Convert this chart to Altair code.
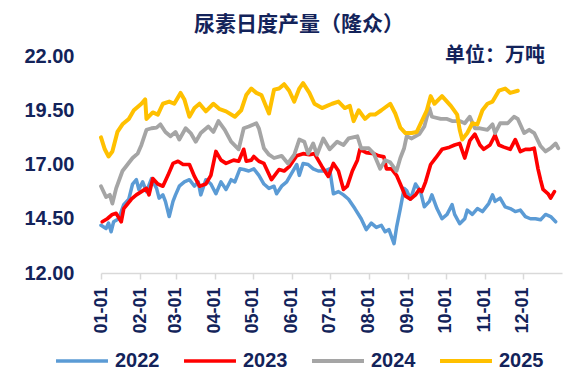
import altair as alt
import pandas as pd

title_text = "尿素日度产量（隆众）"
unit_label = "单位：万吨"
years = ["2022", "2023", "2024", "2025"]
colors = ["#5B9BD5", "#FF0000", "#A5A5A5", "#FFC000"]
widths = [3.5, 4, 3.5, 6]
y_ticks = [12.0, 14.5, 17.0, 19.5, 22.0]

# day of year (1 = Jan 1) and values
day_2022 = [1, 5, 7, 9, 11, 15, 19, 23, 26, 29, 31, 34, 37, 41, 45, 47, 50, 52, 55, 58, 60, 63, 67, 71, 75, 78, 80, 84, 88, 92, 96, 100, 104, 107, 111, 114, 118, 122, 126, 130, 134, 138, 140, 144, 148, 152, 156, 158, 161, 165, 169, 173, 178, 182, 185, 189, 193, 197, 202, 207, 211, 215, 219, 223, 226, 229, 233, 235, 238, 241, 243, 246, 250, 254, 257, 261, 263, 267, 271, 275, 279, 281, 285, 289, 291, 295, 299, 303, 308, 311, 313, 317, 321, 325, 329, 333, 337, 341, 345, 349, 353, 357, 361]
val_2022 = [14.2, 14.05, 14.3, 13.9, 14.36, 14.5, 15.15, 15.4, 16.1, 16.3, 15.85, 16.2, 15.75, 16.35, 15.9, 15.45, 15.6, 15.3, 14.6, 15.3, 15.6, 16.0, 16.2, 16.3, 16.0, 16.2, 15.6, 16.3, 16.1, 15.65, 16.2, 15.85, 16.3, 16.2, 16.8, 16.77, 16.7, 16.8, 16.5, 16.1, 15.9, 16.0, 15.65, 16.0, 16.2, 16.6, 17.0, 16.5, 17.05, 17.0, 16.8, 16.7, 16.7, 16.8, 15.65, 15.75, 15.6, 15.4, 14.97, 14.5, 14.0, 14.3, 14.1, 14.2, 13.9, 14.0, 13.35, 14.1, 14.97, 15.9, 15.8, 15.4, 16.1, 15.75, 15.05, 15.3, 15.6, 14.97, 14.5, 14.7, 15.15, 14.7, 14.27, 14.5, 14.9, 14.7, 14.97, 14.83, 15.2, 15.6, 15.3, 15.45, 15.05, 14.97, 14.83, 14.9, 14.6, 14.5, 14.5, 14.45, 14.7, 14.6, 14.36]

day_2023 = [2, 6, 10, 13, 17, 19, 25, 29, 33, 37, 39, 42, 46, 50, 54, 58, 62, 66, 71, 75, 79, 84, 88, 92, 96, 100, 106, 110, 114, 116, 120, 122, 126, 130, 136, 142, 146, 150, 156, 161, 166, 170, 176, 181, 185, 189, 193, 196, 200, 204, 206, 211, 217, 221, 225, 227, 231, 235, 238, 242, 246, 250, 253, 255, 258, 262, 266, 271, 277, 281, 285, 289, 293, 297, 301, 304, 309, 313, 316, 320, 325, 329, 333, 337, 341, 344, 347, 349, 351, 355, 357, 360]
val_2023 = [14.36, 14.5, 14.7, 14.75, 14.36, 14.97, 15.4, 15.6, 15.75, 15.9, 15.6, 16.35, 16.1, 16.0, 16.5, 17.05, 17.15, 17.0, 17.0, 16.45, 16.0, 16.1, 16.5, 17.6, 17.2, 17.05, 17.2, 17.15, 17.7, 17.15, 17.2, 17.37, 17.15, 17.05, 16.3, 16.77, 16.7, 16.9, 17.4, 17.5, 17.45, 17.5, 16.9, 16.45, 17.05, 16.7, 15.85, 16.0, 16.7, 17.2, 17.7, 17.55, 17.5, 17.4, 17.35, 16.8, 16.8, 16.5, 16.1, 15.55, 15.4, 15.6, 15.85, 15.75, 16.2, 17.0, 17.3, 17.7, 17.8, 17.9, 17.97, 17.3, 18.1, 18.4, 17.9, 17.7, 17.9, 18.35, 17.9, 17.8, 17.7, 18.15, 17.6, 17.7, 17.7, 17.75, 16.8, 16.3, 15.85, 15.65, 15.45, 15.75]

day_2024 = [1, 5, 8, 10, 13, 18, 22, 26, 30, 33, 37, 41, 45, 48, 52, 56, 60, 63, 68, 72, 76, 80, 86, 90, 94, 99, 104, 110, 114, 118, 124, 126, 130, 134, 138, 144, 149, 154, 158, 162, 165, 169, 172, 177, 182, 188, 193, 197, 204, 207, 213, 217, 222, 226, 230, 235, 238, 241, 243, 247, 253, 257, 261, 263, 270, 275, 279, 285, 289, 293, 297, 301, 307, 311, 313, 317, 323, 328, 331, 336, 340, 344, 349, 353, 357, 361, 363]
val_2024 = [16.0, 15.5, 15.6, 15.2, 15.9, 16.7, 17.0, 17.3, 17.5, 17.9, 18.6, 18.67, 18.7, 18.85, 18.5, 18.3, 18.5, 18.15, 18.67, 18.45, 18.05, 18.45, 18.75, 18.5, 19.0, 18.6, 18.05, 17.7, 18.67, 18.75, 18.9, 18.67, 17.75, 17.45, 17.3, 17.4, 17.05, 17.45, 18.15, 18.05, 17.5, 17.97, 17.45, 18.2, 17.7, 18.05, 17.9, 18.2, 18.3, 17.75, 17.75, 17.5, 16.8, 17.2, 17.1, 16.7, 17.3, 17.75, 18.3, 18.2, 18.4, 18.75, 19.6, 19.2, 19.1, 19.1, 19.0, 19.0, 18.9, 19.2, 18.67, 18.67, 18.6, 18.85, 18.45, 18.9, 18.9, 19.2, 19.1, 18.45, 18.6, 18.45, 17.85, 17.6, 17.75, 17.97, 17.75]

day_2025 = [1, 4, 7, 10, 14, 18, 23, 27, 33, 36, 37, 42, 46, 50, 55, 59, 64, 67, 71, 75, 79, 84, 90, 95, 100, 107, 112, 116, 120, 124, 128, 134, 138, 142, 146, 150, 154, 158, 161, 166, 170, 176, 180, 184, 189, 194, 198, 201, 205, 210, 214, 218, 223, 230, 234, 238, 242, 247, 251, 255, 259, 262, 265, 271, 278, 283, 285, 287, 291, 295, 299, 303, 307, 311, 313, 316, 321, 325, 331]
val_2025 = [18.25, 17.7, 17.37, 17.6, 18.5, 18.85, 19.1, 19.5, 19.8, 20.0, 19.1, 19.4, 19.3, 19.8, 19.9, 19.8, 20.3, 20.0, 19.2, 19.6, 19.8, 19.45, 19.8, 19.55, 19.45, 19.2, 19.5, 20.2, 20.5, 20.3, 20.2, 19.35, 20.45, 20.5, 20.7, 20.4, 19.9, 20.5, 20.75, 20.3, 19.8, 19.6, 19.7, 19.8, 19.9, 19.6, 19.7, 19.0, 19.5, 19.1, 19.3, 19.3, 19.5, 19.8, 19.35, 18.7, 18.45, 18.45, 18.5, 19.0, 19.5, 20.15, 19.8, 20.15, 19.7, 19.3, 18.6, 18.15, 18.45, 18.9, 18.85, 19.5, 19.8, 19.9, 20.1, 20.4, 20.5, 20.3, 20.4]

series = {
    "2022": (day_2022, val_2022),
    "2023": (day_2023, val_2023),
    "2024": (day_2024, val_2024),
    "2025": (day_2025, val_2025),
}

base = pd.Timestamp("2023-01-01")
frames = []
for yr, (days, vals) in series.items():
    frames.append(pd.DataFrame({
        "date": [base + pd.Timedelta(days=d - 1) for d in days],
        "value": vals,
        "year": yr,
        "order": years.index(yr),
    }))
df = pd.concat(frames, ignore_index=True)
df["date"] = df["date"].dt.strftime("%Y-%m-%d")

NAVY = "#13235A"
month_ticks = [alt.DateTime(year=2023, month=m, date=1) for m in range(1, 13)]

lines = alt.Chart(df).mark_line(strokeJoin="round", strokeCap="round").encode(
    x=alt.X("date:T",
            scale=alt.Scale(domain=[alt.DateTime(year=2023, month=1, date=1),
                                    alt.DateTime(year=2024, month=1, date=1)]),
            axis=alt.Axis(values=month_ticks, format="%m-%d", labelAngle=270,
                          title=None, grid=False, domainColor="#D9D9D9",
                          tickColor="#D9D9D9", tickSize=6, domainWidth=1.5,
                          tickWidth=1.5, labelPadding=8,
                          labelFont="Liberation Sans", labelFontSize=18,
                          labelFontWeight="bold", labelColor=NAVY)),
    y=alt.Y("value:Q", scale=alt.Scale(domain=[12, 22], nice=False, zero=False),
            axis=alt.Axis(values=y_ticks, format=".2f", title=None, grid=False,
                          domain=False, ticks=False, labelPadding=27,
                          labelFont="Liberation Sans", labelFontSize=20,
                          labelFontWeight="bold", labelColor=NAVY)),
    color=alt.Color("year:N", scale=alt.Scale(domain=years, range=colors),
                    legend=alt.Legend(title=None, orient="none", direction="horizontal",
                                      legendX=-47, legendY=277,
                                      symbolType="stroke", symbolSize=2700,
                                      symbolStrokeWidth=5, columnPadding=16,
                                      labelFont="Liberation Sans", labelFontSize=20,
                                      labelFontWeight="bold", labelColor=NAVY,
                                      labelOffset=5)),
    strokeWidth=alt.StrokeWidth("year:N", scale=alt.Scale(domain=years, range=widths),
                                legend=None),
    order=alt.Order("order:Q"),
    detail="year:N",
)

unit = alt.Chart(pd.DataFrame({"t": [unit_label]})).mark_text(
    align="right", baseline="middle", font="Noto Sans CJK SC", fontSize=20,
    fontWeight="bold", color=NAVY
).encode(text="t:N", x=alt.value(444), y=alt.value(0))

title = alt.Chart(pd.DataFrame({"t": [title_text]})).mark_text(
    align="center", baseline="middle", font="Noto Sans CJK SC", fontSize=21,
    fontWeight="bold", color=NAVY
).encode(text="t:N", x=alt.value(198), y=alt.value(-31))

chart = alt.layer(lines, unit, title).properties(
    width=461, height=217,
    autosize=alt.AutoSizeParams(type="pad"),
    padding={"left": 15, "top": 6, "right": 10, "bottom": 6},
).configure_view(stroke=None)

chart.save("out.html", embed_options={"renderer": "svg", "actions": False})
